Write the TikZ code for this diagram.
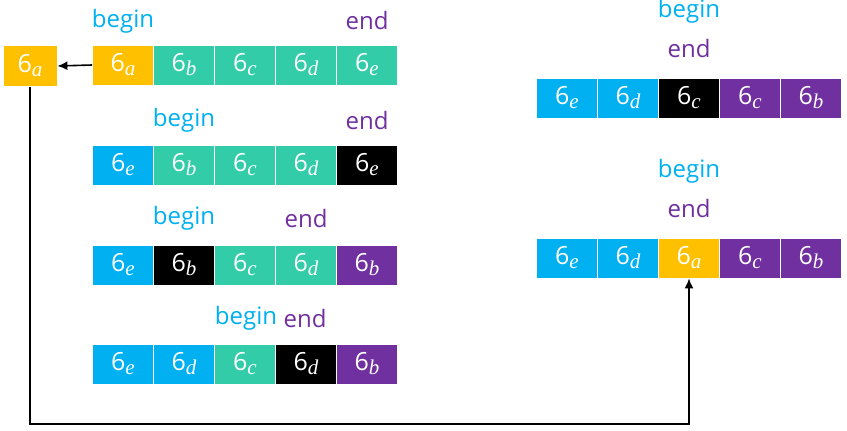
\documentclass[tikz,border=0pt]{standalone}
\usepackage{fontspec}
\setmainfont{Open Sans}
\newfontfamily\subfont{Liberation Serif}
\usetikzlibrary{arrows.meta,positioning}
\definecolor{cblue}{HTML}{00B0F0}
\definecolor{cteal}{HTML}{33CCA9}
\definecolor{cgold}{HTML}{FFC000}
\definecolor{cpurple}{HTML}{7030A0}
\tikzset{%
	cell/.style  = {draw=white, line width=0.8pt, rectangle, minimum width=61pt, minimum height=40pt, inner sep=0pt, text=white, font=\fontsize{25}{28}\selectfont},
	tag/.style   = {inner sep=0pt, font=\fontsize{24}{28}\selectfont},
	arrow/.style = {line width=1.6pt,-{Latex[length=10pt,width=9pt]}},
}
\newcommand{\six}[1]{6\raisebox{-4pt}{\fontsize{21}{24}\subfont\itshape #1}}

\begin{document}
\begin{tikzpicture}[x=1pt,y=-1pt,node distance=61pt]
		\useasboundingbox (0,0) rectangle (847,431);
		% row 1
		\node[cell,fill=cgold] (a1) at (123,65) {\six{a}};
		\node[cell,fill=cteal,right of=a1] (a2) {\six{b}};
		\node[cell,fill=cteal,right of=a2] (a3) {\six{c}};
		\node[cell,fill=cteal,right of=a3] (a4) {\six{d}};
		\node[cell,fill=cteal,right of=a4] (a5) {\six{e}};
		\node[tag,text=cblue,above of=a1,node distance=44pt] (ba) {begin};
		\node[tag,text=cpurple,above of=a5,node distance=44pt] (ea) {end};
		\node[cell,fill=cgold,minimum width=54pt,minimum height=41pt] (sa) at (30,66) {\six{a}};
		
		% row 2
		\node[cell,fill=cblue] (b1) at (123,165) {\six{e}};
		\node[cell,fill=cteal,right of=b1] (b2) {\six{b}};
		\node[cell,fill=cteal,right of=b2] (b3) {\six{c}};
		\node[cell,fill=cteal,right of=b3] (b4) {\six{d}};
		\node[cell,fill=black,right of=b4] (b5) {\six{e}};
		\node[tag,text=cblue,above of=b2,node distance=45pt] (bb) {begin};
		\node[tag,text=cpurple,above of=b5,node distance=45pt] (eb) {end};
		
		% row 3
		\node[cell,fill=cblue] (c1) at (123,265) {\six{e}};
		\node[cell,fill=black,right of=c1] (c2) {\six{b}};
		\node[cell,fill=cteal,right of=c2] (c3) {\six{c}};
		\node[cell,fill=cteal,right of=c3] (c4) {\six{d}};
		\node[cell,fill=cpurple,right of=c4] (c5) {\six{b}};
		\node[tag,text=cblue,above of=c2,node distance=47pt] (bc) {begin};
		\node[tag,text=cpurple,above of=c4,node distance=47pt] (ec) {end};
		
		% row 4
		\node[cell,fill=cblue] (d1) at (123,364) {\six{e}};
		\node[cell,fill=cblue,right of=d1] (d2) {\six{d}};
		\node[cell,fill=cteal,right of=d2] (d3) {\six{c}};
		\node[cell,fill=black,right of=d3] (d4) {\six{d}};
		\node[cell,fill=cpurple,right of=d4] (d5) {\six{b}};
		\node[tag,text=cblue,above of=d3,node distance=46pt,xshift=1pt] (bd) {begin};
		\node[tag,text=cpurple,above of=d4,node distance=46pt,xshift=-1pt] (ed) {end};
		
		% right, top
		\node[cell,fill=cblue] (p1) at (567,98) {\six{e}};
		\node[cell,fill=cblue,right of=p1] (p2) {\six{d}};
		\node[cell,fill=black,right of=p2] (p3) {\six{c}};
		\node[cell,fill=cpurple,right of=p3] (p4) {\six{c}};
		\node[cell,fill=cpurple,right of=p4] (p5) {\six{b}};
		\node[tag,text=cpurple,above of=p3,node distance=50pt] (ep) {end};
		\node[tag,text=cblue,above of=p3,node distance=87pt] (bp) {begin};
		
		% right, bottom
		\node[cell,fill=cblue] (q1) at (567,258) {\six{e}};
		\node[cell,fill=cblue,right of=q1] (q2) {\six{d}};
		\node[cell,fill=cgold,right of=q2] (q3) {\six{a}};
		\node[cell,fill=cpurple,right of=q3] (q4) {\six{c}};
		\node[cell,fill=cpurple,right of=q4] (q5) {\six{b}};
		\node[tag,text=cpurple,above of=q3,node distance=50pt] (eq) {end};
		\node[tag,text=cblue,above of=q3,node distance=87pt] (bq) {begin};
		
		\draw[arrow] (a1.west) -- (sa.east);
		\draw[arrow] (sa.south) -- ++(0,337) -| (q3.south);
\end{tikzpicture}
\end{document}
